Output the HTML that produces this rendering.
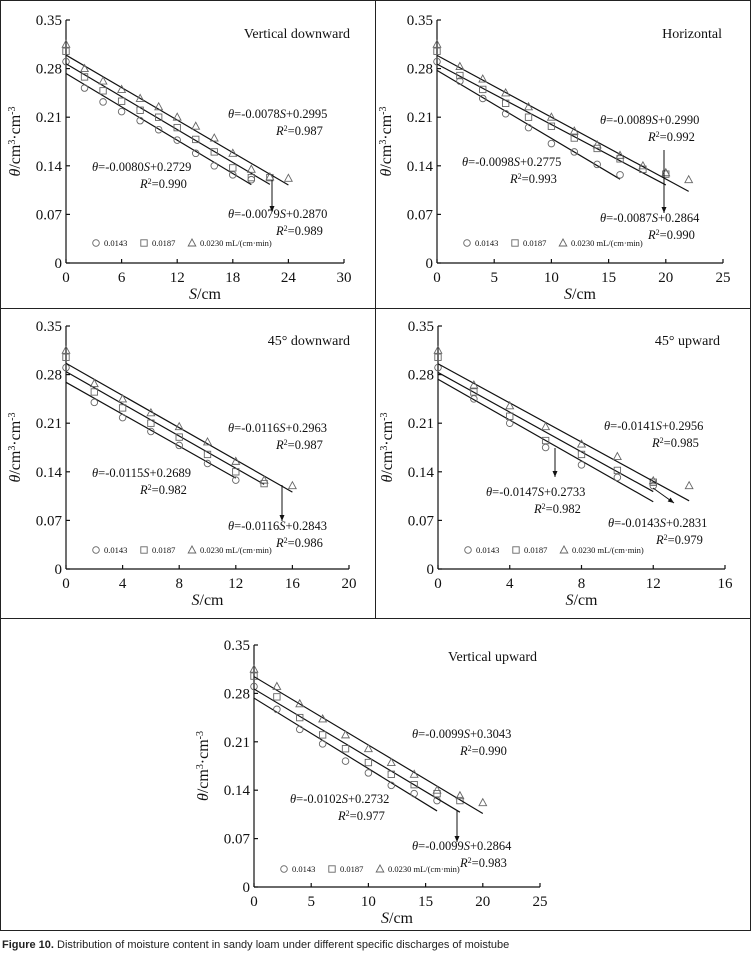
<!DOCTYPE html>
<html><head><meta charset="utf-8"><style>
body{margin:0;background:#fff}
svg{display:block;font-family:"Liberation Serif",serif}
</style></head><body>
<svg id="fig" width="752" height="955" viewBox="0 0 752 955" xmlns="http://www.w3.org/2000/svg">
<g fill="none" stroke="#222" stroke-width="1">
<rect x="0.5" y="0.5" width="750" height="930"/>
<line x1="375.5" y1="0" x2="375.5" y2="618"/>
<line x1="0" y1="308.5" x2="751" y2="308.5"/>
<line x1="0" y1="618.5" x2="751" y2="618.5"/>
</g>
<text x="2" y="948" font-family="Liberation Sans, sans-serif" font-size="11" fill="#222"><tspan font-weight="bold">Figure 10.</tspan> Distribution of moisture content in sandy loam under different specific discharges of moistube</text>
</svg>
<script>
// ---- data ----
const p1Circle=[0.29,0.252,0.232,0.218,0.205,0.192,0.177,0.158,0.14,0.127,0.12];
const p1Square=[0.305,0.268,0.248,0.233,0.22,0.21,0.195,0.178,0.16,0.137,0.123,0.123];
const p1Tri=[0.315,0.28,0.262,0.25,0.237,0.225,0.21,0.197,0.18,0.158,0.135,0.124,0.122];
const p2Circle=[0.29,0.262,0.237,0.215,0.195,0.172,0.16,0.142,0.127];
const p2Square=[0.305,0.27,0.25,0.23,0.21,0.197,0.18,0.165,0.15,0.135,0.128];
const p2Tri=[0.315,0.283,0.265,0.245,0.225,0.21,0.19,0.17,0.155,0.14,0.13,0.12];
const p3Circle=[0.29,0.24,0.218,0.198,0.178,0.152,0.128];
const p3Square=[0.305,0.255,0.232,0.21,0.19,0.165,0.14,0.123];
const p3Tri=[0.315,0.267,0.245,0.225,0.205,0.183,0.155,0.128,0.12];
const p4Circle=[0.29,0.245,0.21,0.175,0.15,0.132,0.12];
const p4Square=[0.305,0.255,0.22,0.185,0.165,0.142,0.125];
const p4Tri=[0.315,0.265,0.235,0.205,0.18,0.162,0.127,0.12];
const p5Circle=[0.29,0.257,0.228,0.207,0.182,0.165,0.147,0.135,0.125];
const p5Square=[0.305,0.275,0.245,0.22,0.2,0.18,0.163,0.148,0.135,0.125];
const p5Tri=[0.315,0.29,0.265,0.243,0.22,0.2,0.18,0.163,0.14,0.132,0.122];
const slopes=[[-0.0080,-0.0079,-0.0078],[-0.0098,-0.0087,-0.0089],[-0.0115,-0.0116,-0.0116],[-0.0147,-0.0143,-0.0141],[-0.0102,-0.0099,-0.0099]];
const intercepts=[[0.2729,0.2870,0.2995],[0.2775,0.2864,0.2990],[0.2689,0.2843,0.2963],[0.2733,0.2831,0.2956],[0.2732,0.2864,0.3043]];
const lineEnds=[[20,22,24],[16,20,22],[12,14,16],[12,12,14],[16,18,20]];
const yTicks=[0,0.07,0.14,0.21,0.28,0.35];
const yTickLabels=["0","0.07","0.14","0.21","0.28","0.35"];
const xTicksList=[[0,6,12,18,24,30],[0,5,10,15,20,25],[0,4,8,12,16,20],[0,4,8,12,16],[0,5,10,15,20,25]];
const r2=[["0.990","0.989","0.987"],["0.993","0.990","0.992"],["0.982","0.986","0.987"],["0.982","0.979","0.985"],["0.977","0.983","0.990"]];
const titles=["Vertical downward","Horizontal","45° downward","45° upward","Vertical upward"];
const legendLabels=["0.0143","0.0187","0.0230 mL/(cm·min)"];
const xStep=2;
// ---- layout ----
const panels=[
 {x0:66,y0:263,yTop:20,xR:344,xMax:30,data:[p1Circle,p1Square,p1Tri],title:[350,38],
  ann:[[92,171],[228,218],[228,118]],arrows:[[272,180,272,212]],legend:[96,246]},
 {x0:437,y0:263,yTop:20,xR:723,xMax:25,data:[p2Circle,p2Square,p2Tri],title:[722,38],
  ann:[[462,166],[600,222],[600,124]],arrows:[[664,150,664,213]],legend:[467,246]},
 {x0:66,y0:569,yTop:326,xR:349,xMax:20,data:[p3Circle,p3Square,p3Tri],title:[350,345],
  ann:[[92,477],[228,530],[228,432]],arrows:[[282,485,282,521]],legend:[96,553]},
 {x0:438,y0:569,yTop:326,xR:725,xMax:16,data:[p4Circle,p4Square,p4Tri],title:[720,345],
  ann:[[486,496],[608,527],[604,430]],arrows:[[555,448,555,477],[653,488,674,503]],legend:[468,553]},
 {x0:254,y0:887,yTop:645,xR:540,xMax:25,data:[p5Circle,p5Square,p5Tri],title:[537,661],
  ann:[[290,803],[412,850],[412,738]],arrows:[[457,810,457,842]],legend:[284,872]}
];
const NS="http://www.w3.org/2000/svg";
const svg=document.getElementById('fig');
function mk(tag,attrs,parent){const e=document.createElementNS(NS,tag);for(const k in attrs)e.setAttribute(k,attrs[k]);parent.appendChild(e);return e;}
function marker(g,shape,cx,cy){
 let m;
 if(shape===0)m=mk('circle',{cx:cx,cy:cy,r:3.3,fill:'none',stroke:'#666','stroke-width':0.9},g);
 else if(shape===1)m=mk('rect',{x:cx-3.2,y:cy-3.2,width:6.4,height:6.4,fill:'none',stroke:'#666','stroke-width':0.9},g);
 else m=mk('polygon',{points:`${cx},${cy-4} ${cx-3.8},${cy+3} ${cx+3.8},${cy+3}`,fill:'none',stroke:'#666','stroke-width':0.9},g);
 return m;
}
panels.forEach((P,pi)=>{
 const g=mk('g',{},svg);
 
 
 const sx=v=>P.x0+(P.xR-P.x0)*v/P.xMax;
 const sy=v=>P.y0-(P.y0-P.yTop)*v/0.35;
 const ax=mk('g',{stroke:'#111','stroke-width':1.2,fill:'none'},g);
 
 
 mk('line',{x1:P.x0,y1:P.y0,x2:P.xR,y2:P.y0},ax);
 mk('line',{x1:P.x0,y1:P.y0,x2:P.x0,y2:P.yTop},ax);
 yTicks.forEach((t,i)=>{
  mk('line',{x1:P.x0,y1:sy(t),x2:P.x0+4,y2:sy(t)},ax);
  const tx=mk('text',{x:P.x0-4,y:sy(t)+5,'text-anchor':'end','font-size':15,fill:'#111'},g);
  
  
  tx.textContent=yTickLabels[i];
 });
 xTicksList[pi].forEach(t=>{
  mk('line',{x1:sx(t),y1:P.y0,x2:sx(t),y2:P.y0-4},ax);
  const tx=mk('text',{x:sx(t),y:P.y0+19,'text-anchor':'middle','font-size':15,fill:'#111'},g);
  
  
  tx.textContent=t;
 });
 const xt=mk('text',{x:(P.x0+P.xR)/2,y:P.y0+36,'text-anchor':'middle','font-size':16,fill:'#111'},g);
 
 
 xt.innerHTML='<tspan font-style="italic">S</tspan>/cm';
 const yt=mk('text',{x:0,y:0,'text-anchor':'middle','font-size':16,fill:'#111',transform:`translate(${P.x0-46},${(P.y0+P.yTop)/2}) rotate(-90)`},g);
 
 
 yt.innerHTML='<tspan font-style="italic">θ</tspan>/cm<tspan baseline-shift="super" font-size="10">3</tspan>·cm<tspan baseline-shift="super" font-size="10">-3</tspan>';
 const ti=mk('text',{x:P.title[0],y:P.title[1],'text-anchor':'end','font-size':14,fill:'#111'},g);
 
 
 ti.textContent=titles[pi];
 for(let s=0;s<3;s++){
  const ln=mk('line',{x1:sx(0),y1:sy(intercepts[pi][s]),x2:sx(lineEnds[pi][s]),y2:sy(intercepts[pi][s]+slopes[pi][s]*lineEnds[pi][s]),stroke:'#111','stroke-width':1.2},g);
  
  
  P.data[s].forEach((v,i)=>{
   const m=marker(g,s,sx(i*xStep),sy(v));
   
   
  });
  const a=P.ann[s];
  const eq=mk('text',{x:a[0],y:a[1],'font-size':12.5,fill:'#111'},g);
  
  
  const sl=slopes[pi][s].toFixed(4), ic=intercepts[pi][s].toFixed(4);
  eq.innerHTML=`<tspan font-style="italic">θ</tspan>=${sl}<tspan font-style="italic">S</tspan>+${ic}`;
  const rr=mk('text',{x:a[0]+48,y:a[1]+17,'font-size':12.5,fill:'#111'},g);
  
  
  rr.innerHTML=`<tspan font-style="italic">R</tspan><tspan baseline-shift="super" font-size="8">2</tspan>=${r2[pi][s]}`;
 }
 P.arrows.forEach(r=>{
  const ag=mk('g',{},g);
  
  
  mk('line',{x1:r[0],y1:r[1],x2:r[2],y2:r[3],stroke:'#111','stroke-width':1},ag);
  const ang=Math.atan2(r[3]-r[1],r[2]-r[0]);
  const L=6,W=2.5;
  const bx=r[2]-L*Math.cos(ang),by=r[3]-L*Math.sin(ang);
  mk('polygon',{points:`${r[2]},${r[3]} ${bx-W*Math.sin(ang)},${by+W*Math.cos(ang)} ${bx+W*Math.sin(ang)},${by-W*Math.cos(ang)}`,fill:'#111'},ag);
 });
 const lg=mk('g',{},g);
 
 
 let lx=P.legend[0];const ly=P.legend[1];
 const widths=[48,48,0];
 legendLabels.forEach((lab,s)=>{
  const m=marker(lg,s,lx,ly-3);
  
  
  const t=mk('text',{x:lx+8,y:ly,'font-size':8.5,fill:'#111'},lg);
  
  
  t.textContent=lab;
  lx+=widths[s];
 });
});
</script>
</body></html>
